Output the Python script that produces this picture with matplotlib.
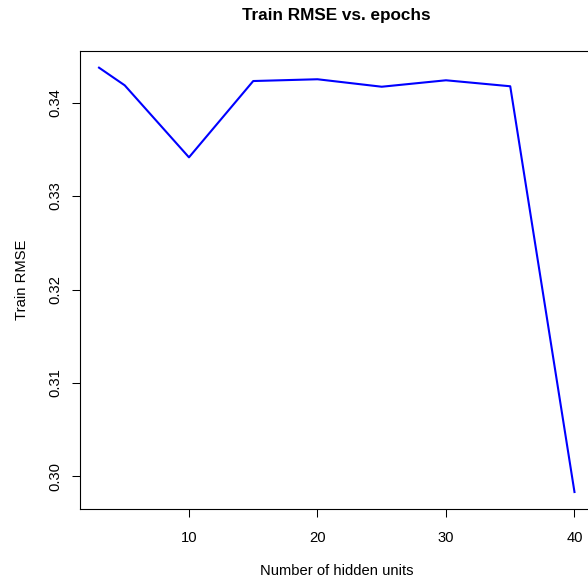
import matplotlib
matplotlib.use("Agg")
import matplotlib.pyplot as plt

plt.rcParams['font.family'] = ['Liberation Sans', 'DejaVu Sans']

# hidden units tried and the training RMSE for each
hidden_units = [3, 5, 10, 15, 20, 25, 30, 35, 40]
train_rmse = [0.34375, 0.34186, 0.33415, 0.34232, 0.34251, 0.34171, 0.34240, 0.34176, 0.29832]

xticks = [10, 20, 30, 40]
yticks = [0.30, 0.31, 0.32, 0.33, 0.34]

fig = plt.figure(figsize=(5.88, 5.86), dpi=100)
ax = fig.add_axes([80 / 588, 77 / 586, 513.5 / 588, 458.3 / 586])

ax.plot(hidden_units, train_rmse, color='#0000ff', lw=1.5)
ax.margins(x=0.04, y=0.04)

ax.set_xticks(xticks)
ax.set_yticks(yticks)
ax.set_yticklabels(['%.2f' % v for v in yticks], rotation=90, va='center')
ax.tick_params(length=5.8, width=0.75, labelsize=10.6, color='black')
ax.tick_params(axis='x', pad=10)
ax.tick_params(axis='y', pad=7)

for s in ax.spines.values():
    s.set_linewidth(0.8)
    s.set_color('black')

ax.set_title('Train RMSE vs. epochs', fontsize=12.3, fontweight='bold', pad=22)
ax.set_xlabel('Number of hidden units', fontsize=10.6, labelpad=14)
ax.set_ylabel('Train RMSE', fontsize=10.6, labelpad=14)

fig.savefig('out.png', dpi=100)
